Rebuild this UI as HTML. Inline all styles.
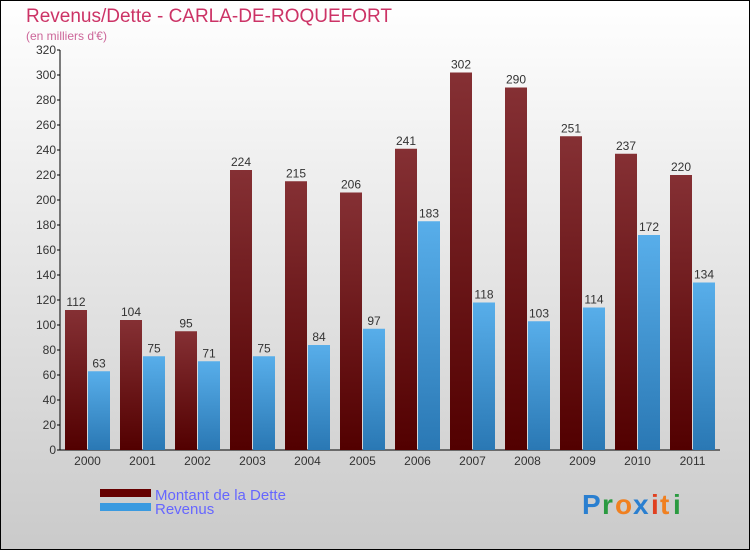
<!DOCTYPE html>
<html><head><meta charset="utf-8"><style>
body{margin:0}
svg{display:block;font-family:"Liberation Sans",sans-serif}
</style></head><body>
<svg width="750" height="550" viewBox="0 0 750 550">
<defs>
<linearGradient id="bg" x1="0" y1="0" x2="0" y2="1"><stop offset="0" stop-color="#ffffff"/><stop offset="1" stop-color="#cacaca"/></linearGradient>
<linearGradient id="gd" x1="0" y1="0" x2="0" y2="1"><stop offset="0" stop-color="#853034"/><stop offset="1" stop-color="#520000"/></linearGradient>
<linearGradient id="gr" x1="0" y1="0" x2="0" y2="1"><stop offset="0" stop-color="#58aeea"/><stop offset="1" stop-color="#2a78b4"/></linearGradient>
</defs>
<rect x="0.5" y="0.5" width="749" height="549" fill="url(#bg)" stroke="#000"/>
<text x="26" y="22" font-size="19" fill="#cc3366">Revenus/Dette - CARLA-DE-ROQUEFORT</text>
<text x="26" y="40" font-size="12" fill="#cc6699">(en milliers d'€)</text>
<g id="axes"></g>
<g id="bars"></g>
<rect x="100" y="489" width="51" height="8" fill="#660000"/>
<text x="155" y="500" font-size="15" fill="#6666ff">Montant de la Dette</text>
<rect x="100" y="503" width="51" height="8" fill="#3a9ae0"/>
<text x="155" y="514" font-size="15" fill="#6666ff">Revenus</text>
<g font-size="28" font-weight="bold">
<text x="582" y="514" fill="#2a7fd0">P</text><text x="602" y="514" fill="#2a9a40">r</text><text x="615" y="514" fill="#f08020">o</text><text x="633" y="514" fill="#2a7fd0">x</text><text x="651" y="514" fill="#e04020">i</text><text x="660" y="514" fill="#f08020">t</text><text x="673" y="514" fill="#2a9a40">i</text>
</g>
</svg>
<script>
const categories=["2000","2001","2002","2003","2004","2005","2006","2007","2008","2009","2010","2011"];
const dette=[112,104,95,224,215,206,241,302,290,251,237,220];
const revenus=[63,75,71,75,84,97,183,118,103,114,172,134];
const yTicks=[0,20,40,60,80,100,120,140,160,180,200,220,240,260,280,300,320];
const NS="http://www.w3.org/2000/svg";
const x0=60,y0=450,slot=55,ppu=400/320;
const y=v=>y0-v*ppu;
const ax=document.getElementById('axes'),bg=document.getElementById('bars');
function mk(tag,attrs,parent,txt){const e=document.createElementNS(NS,tag);for(const k in attrs)e.setAttribute(k,attrs[k]);if(txt!==undefined)e.textContent=txt;parent.appendChild(e);return e;}
const yl=mk('line',{x1:x0,y1:y(320),x2:x0,y2:y0,stroke:'#000'},ax);


const xl=mk('line',{x1:x0,y1:y0,x2:x0+slot*categories.length,y2:y0,stroke:'#000'},ax);


yTicks.forEach(t=>{
 mk('line',{x1:x0-3,y1:y(t),x2:x0,y2:y(t),stroke:'#000'},ax);
 const tx=mk('text',{x:x0-4,y:y(t)+4,'font-size':12,'text-anchor':'end',fill:'#333'},ax,t);
 
 
});
categories.forEach((c,i)=>{
 const gx=x0+slot*i;
 const tx=mk('text',{x:gx+slot/2,y:y0+15,'font-size':12,'text-anchor':'middle',fill:'#333'},ax,c);
 
 
 const b1=mk('rect',{x:gx+5,y:y(dette[i]),width:22,height:y0-y(dette[i]),fill:'url(#gd)'},bg);
 
 
 const l1=mk('text',{x:gx+16,y:y(dette[i])-4,'font-size':12,'text-anchor':'middle',fill:'#333'},bg,dette[i]);
 
 
 const b2=mk('rect',{x:gx+28,y:y(revenus[i]),width:22,height:y0-y(revenus[i]),fill:'url(#gr)'},bg);
 
 
 const l2=mk('text',{x:gx+39,y:y(revenus[i])-4,'font-size':12,'text-anchor':'middle',fill:'#333'},bg,revenus[i]);
 
 
});
</script>
</body></html>
